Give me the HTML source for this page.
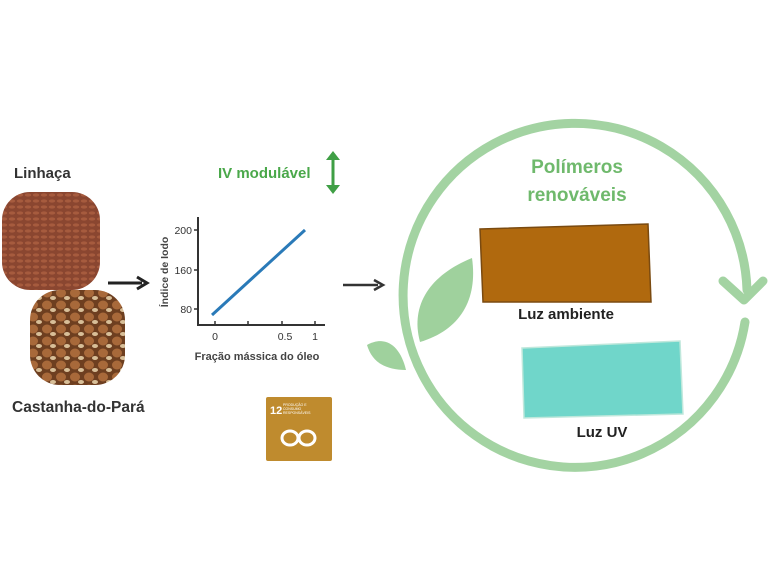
<!DOCTYPE html>
<html><head><meta charset="utf-8"><style>
body{margin:0;background:#fff;width:768px;height:576px;overflow:hidden;font-family:"Liberation Sans","DejaVu Sans",sans-serif}
</style></head><body>
<svg width="768" height="576" viewBox="0 0 768 576" xmlns="http://www.w3.org/2000/svg" font-family="Liberation Sans, DejaVu Sans, sans-serif">
<defs>
<pattern id="flax" width="8" height="6" patternUnits="userSpaceOnUse"><rect width="8" height="6" fill="#8a4630"/><ellipse cx="4" cy="3" rx="3.2" ry="1.6" fill="#a65b3e"/></pattern>
<pattern id="nut" width="14" height="12" patternUnits="userSpaceOnUse"><rect width="14" height="12" fill="#6e3f20"/><ellipse cx="5" cy="5" rx="5" ry="4.5" fill="#a8693a"/><ellipse cx="11" cy="10" rx="3" ry="2" fill="#d8bf98"/></pattern>
</defs>
<text x="14" y="178" font-size="15" font-weight="bold" fill="#333">Linhaça</text>
<rect x="2" y="192" width="98" height="98" rx="28" fill="url(#flax)"/>
<rect x="30" y="290" width="95" height="95" rx="30" fill="url(#nut)"/>
<text x="12" y="412" font-size="15.5" font-weight="bold" fill="#333">Castanha-do-Pará</text>
<line x1="108" y1="283" x2="142" y2="283" stroke="#222" stroke-width="3"/>
<path d="M137 277 L147 283 L137 289" fill="none" stroke="#222" stroke-width="3"/>
<text x="218" y="178" font-size="15" font-weight="bold" fill="#4aa84a">IV modulável</text>
<line x1="333" y1="157" x2="333" y2="188" stroke="#3f9f45" stroke-width="3"/>
<path d="M326 160 L333 151 L340 160Z M326 185 L333 194 L340 185Z" fill="#3f9f45"/>
<path d="M198 217 V325 H325" fill="none" stroke="#333" stroke-width="2"/>
<g stroke="#333" stroke-width="1.5"><line x1="194" y1="230" x2="198" y2="230"/><line x1="194" y1="270" x2="198" y2="270"/><line x1="194" y1="309" x2="198" y2="309"/><line x1="215" y1="325" x2="215" y2="321"/><line x1="248" y1="325" x2="248" y2="321"/><line x1="282" y1="325" x2="282" y2="321"/><line x1="315" y1="325" x2="315" y2="321"/></g>
<g font-size="10.5" fill="#333" text-anchor="end"><text x="192" y="234">200</text><text x="192" y="274">160</text><text x="192" y="313">80</text></g>
<g font-size="10.5" fill="#333" text-anchor="middle"><text x="215" y="340">0</text><text x="285" y="340">0.5</text><text x="315" y="340">1</text></g>
<text x="257" y="360" font-size="11" font-weight="bold" fill="#444" text-anchor="middle">Fração mássica do óleo</text>
<text transform="translate(168 272) rotate(-90)" font-size="10.5" font-weight="bold" fill="#444" text-anchor="middle">Índice de Iodo</text>
<line x1="212" y1="315" x2="305" y2="230" stroke="#2a7ab8" stroke-width="3"/>
<rect x="266" y="397" width="66" height="64" rx="2" fill="#bf8b2e"/>
<text x="270" y="414" font-size="11" font-weight="bold" fill="#fff">12</text>
<g fill="#fff" font-size="3.5"><text x="283" y="406">PRODUÇÃO E</text><text x="283" y="410">CONSUMO</text><text x="283" y="414">RESPONSÁVEIS</text></g>
<ellipse cx="290" cy="438" rx="8" ry="7" fill="none" stroke="#fff" stroke-width="3"/>
<ellipse cx="307" cy="438" rx="8" ry="7" fill="none" stroke="#fff" stroke-width="3"/>
<line x1="343" y1="285" x2="378" y2="285" stroke="#333" stroke-width="2.5"/>
<path d="M374 280 L383 285 L374 290" fill="none" stroke="#333" stroke-width="2.5"/>
<path d="M745 322 A172 172 0 1 1 747 290" fill="none" stroke="#a3d3a2" stroke-width="9" stroke-linecap="round"/>
<path d="M723 281 L744 300 L763 281" fill="none" stroke="#a3d3a2" stroke-width="9" stroke-linecap="round" stroke-linejoin="round"/>
<path d="M420 342 C410 305 430 275 472 258 C478 300 460 330 420 342Z" fill="#9fd19d"/>
<path d="M367 345 C385 335 400 345 406 370 C385 370 372 362 367 345Z" fill="#9fd19d"/>
<text x="577" y="173" font-size="19" font-weight="bold" fill="#6fb96c" text-anchor="middle">Polímeros</text>
<text x="577" y="201" font-size="19" font-weight="bold" fill="#6fb96c" text-anchor="middle">renováveis</text>
<path d="M480 229 L648 224 L651 302 L483 302Z" fill="#b0690e" stroke="#7a4a10" stroke-width="1.5"/>
<text x="566" y="319" font-size="15" font-weight="bold" fill="#222" text-anchor="middle">Luz ambiente</text>
<path d="M522 348 L680 341 L683 414 L524 418Z" fill="#70d6ca" stroke="#c0e8dc" stroke-width="1.5"/>
<text x="602" y="437" font-size="15" font-weight="bold" fill="#222" text-anchor="middle">Luz UV</text>
</svg>
</body></html>
